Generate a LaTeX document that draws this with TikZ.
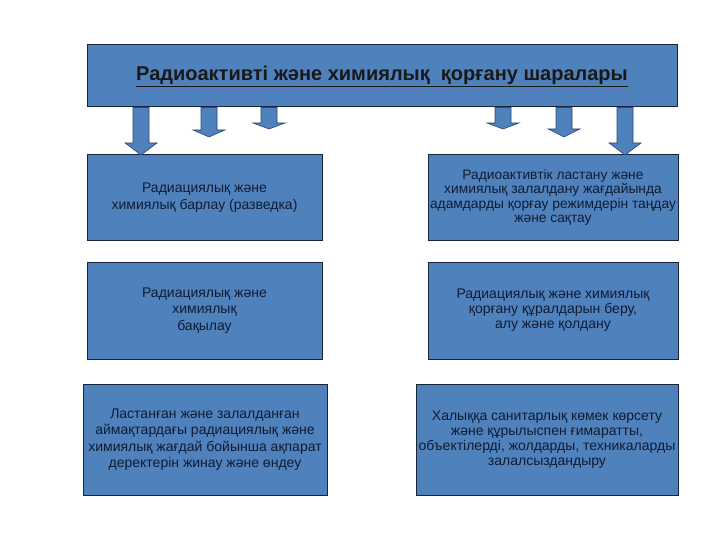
\documentclass[tikz,border=0pt]{standalone}
\usepackage{fontspec}
\setmainfont{Liberation Sans}
\usepackage{tikz}

\definecolor{boxblue}{RGB}{79,129,189}
\definecolor{boxedge}{RGB}{24,36,58}
\definecolor{textnavy}{RGB}{16,28,52}

\tikzset{
	mbox/.style={draw=boxedge, line width=1pt, fill=boxblue, text=textnavy,
		align=center, inner sep=0pt, font=\fontsize{14}{16.5}\selectfont},
	barrow/.style={draw=boxedge!60!boxblue, line width=0.6pt, fill=boxblue}
}

\begin{document}
\begin{tikzpicture}[x=1pt,y=-1pt]
	
	\useasboundingbox (0,0) rectangle (720,540);
	
	\node[mbox, minimum width=590, minimum height=62,
		font=\fontsize{20}{22}\bfseries\selectfont, text=black!90]
		(top) at (382,76) {\underline{Радиоактивті және химиялық\ \ қорғану шаралары}};
	
	\node[mbox, minimum width=235, minimum height=85] (barlau) at (204.5,197.5)
		{Радиациялық және\\химиялық барлау (разведка)};
	\node[mbox, minimum width=235, minimum height=97] (bakylau) at (204.5,310.5)
		{Радиациялық және\\химиялық\\бақылау};
	\node[mbox, minimum width=244, minimum height=111] (akparat) at (205,439.5)
		{Ластанған және залалданған\\аймақтардағы радиациялық және\\химиялық жағдай бойынша ақпарат\\деректерін жинау және өндеу};
	
	\node[mbox, minimum width=250, minimum height=85,
		font=\fontsize{13.8}{14.5}\selectfont] (rezhim) at (553,197.5)
		{\raisebox{9pt}{\parbox{250pt}{\centering Радиоактивтік ластану және\\химиялық залалдану жағдайында\\адамдарды қорғау режимдерін таңдау\\және сақтау}}};
	\node[mbox, minimum width=250, minimum height=97,
		font=\fontsize{14}{15}\selectfont] (kural) at (553,310.5)
		{Радиациялық және химиялық\\қорғану құралдарын беру,\\алу және қолдану};
	\node[mbox, minimum width=262, minimum height=111,
		font=\fontsize{14}{15}\selectfont] (sanitar) at (547,439.5)
		{\raisebox{10pt}{\parbox{262pt}{\centering Халыққа санитарлық көмек көрсету\\және құрылыспен ғимаратты,\\объектілерді, жолдарды, техникаларды\\залалсыздандыру}}};
	
	% block arrows under the title box
	\foreach \i/\ax/\tip/\hd in {1/141/155/143, 2/209/137/130, 3/269/129/123,
		4/503/129/123, 5/564/137/129, 6/625/155/143}{
		\coordinate (t\i) at (\ax,\tip);
		\draw[barrow] (top.south -| {\ax-8},0) -- (top.south -| {\ax+8},0)
			-- (\ax+8,\hd) -- (\ax+16,\hd) -- (t\i) -- (\ax-16,\hd)
			-- (\ax-8,\hd) -- cycle;
	}
	
\end{tikzpicture}
\end{document}
